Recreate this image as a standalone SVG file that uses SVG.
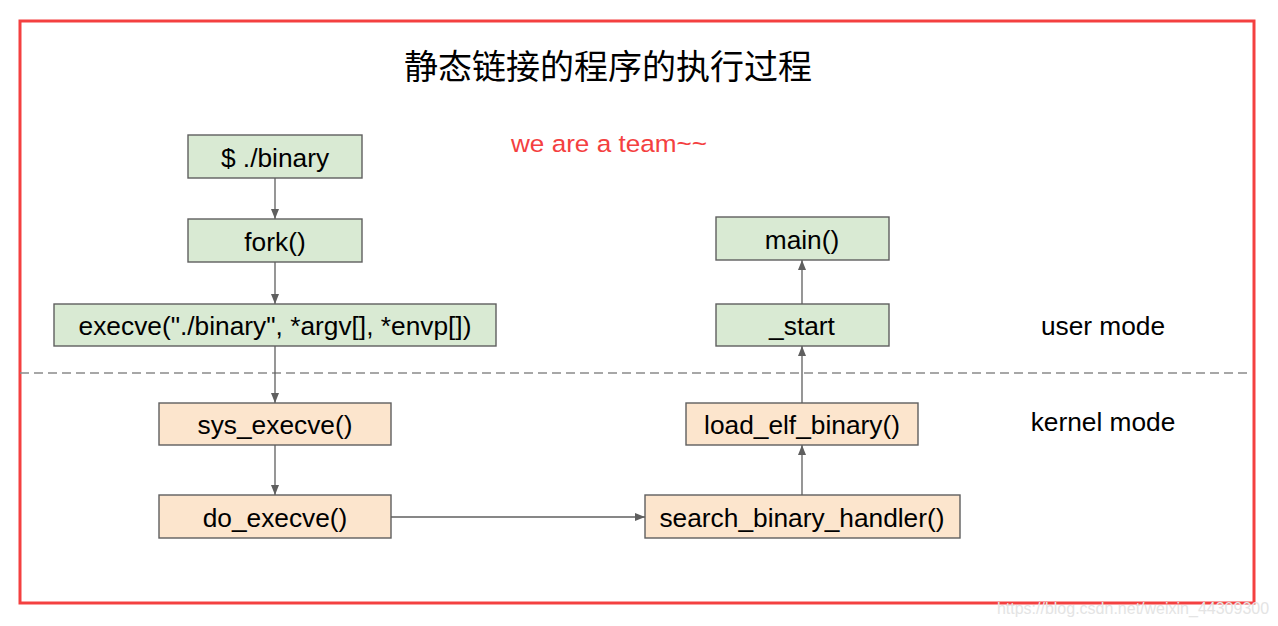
<svg xmlns="http://www.w3.org/2000/svg" width="1278" height="626" viewBox="0 0 1278 626">
<style>
.box{stroke:#5f5f5f;stroke-width:1.4}
.u{fill:#d9ead3}
.k{fill:#fce5cd}
.t{font-family:"Liberation Sans",Arial,sans-serif;font-size:26.3px;fill:#000;text-anchor:middle}
.c{stroke:#5f5f5f;stroke-width:1.3;fill:none;marker-end:url(#ah)}
</style>
<defs>
<marker id="ah" markerUnits="userSpaceOnUse" markerWidth="10" markerHeight="10" viewBox="0 0 10 10" refX="10" refY="5" orient="auto">
<path d="M0,1 L10,5 L0,9 z" fill="#5f5f5f"/>
</marker>
</defs>
<rect width="1278" height="626" fill="#fff"/>
<rect x="20" y="21" width="1234" height="582" fill="none" stroke="#f44040" stroke-width="3"/>
<text x="608" y="79" font-family="'Noto Sans CJK SC',sans-serif" font-size="34" text-anchor="middle" fill="#000">静态链接的程序的执行过程</text>
<text x="609" y="152" font-family="'Liberation Sans',Arial,sans-serif" font-size="24.5" text-anchor="middle" fill="#f44040" textLength="196" lengthAdjust="spacingAndGlyphs">we are a team~~</text>
<line x1="20" y1="373" x2="1252" y2="373" stroke="#8a8a8a" stroke-width="1.3" stroke-dasharray="9,5"/>
<text class="t" x="1103" y="335">user mode</text>
<text class="t" x="1103" y="431">kernel mode</text>
<g id="connectors">
<line class="c" x1="275" y1="178" x2="275" y2="219"/>
<line class="c" x1="275" y1="262" x2="275" y2="304"/>
<line class="c" x1="275" y1="346" x2="275" y2="403"/>
<line class="c" x1="275" y1="445" x2="275" y2="495"/>
<line class="c" x1="391" y1="517" x2="645" y2="517"/>
<line class="c" x1="802" y1="495" x2="802" y2="445"/>
<line class="c" x1="802" y1="403" x2="802" y2="346"/>
<line class="c" x1="802" y1="304" x2="802" y2="260"/>
</g>
<g id="n_binary"><rect class="box u" x="188" y="135" width="174" height="43"/><text class="t" x="275" y="167">$ ./binary</text></g>
<g id="n_fork"><rect class="box u" x="188" y="219" width="174" height="43"/><text class="t" x="275" y="251">fork()</text></g>
<g id="n_execve"><rect class="box u" x="54" y="304" width="442" height="42"/><text class="t" x="275" y="335">execve("./binary", *argv[], *envp[])</text></g>
<g id="n_sys_execve"><rect class="box k" x="159" y="403" width="232" height="42"/><text class="t" x="275" y="434">sys_execve()</text></g>
<g id="n_do_execve"><rect class="box k" x="159" y="495" width="232" height="43"/><text class="t" x="275" y="527">do_execve()</text></g>
<g id="n_search"><rect class="box k" x="645" y="495" width="315" height="43"/><text class="t" x="802" y="527">search_binary_handler()</text></g>
<g id="n_load_elf"><rect class="box k" x="686" y="403" width="232" height="42"/><text class="t" x="802" y="434">load_elf_binary()</text></g>
<g id="n_start"><rect class="box u" x="716" y="304" width="173" height="42"/><text class="t" x="802" y="335">_start</text></g>
<g id="n_main"><rect class="box u" x="716" y="217" width="173" height="43"/><text class="t" x="802" y="249">main()</text></g>
<text x="1133" y="614" font-family="'Liberation Sans',Arial,sans-serif" font-size="16" text-anchor="middle" fill="#e4e4e4">https://blog.csdn.net/weixin_44309300</text>
</svg>
